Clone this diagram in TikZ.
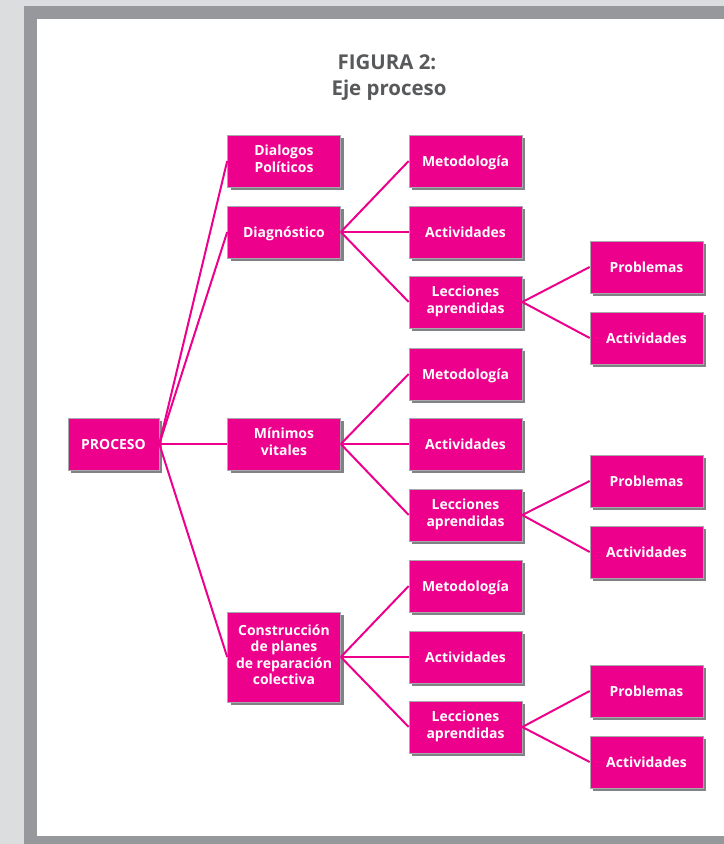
\documentclass[tikz,border=0pt]{standalone}
\usepackage{fontspec}
\setmainfont{Open Sans}
\usetikzlibrary{shadows}
\definecolor{pagegray}{HTML}{DCDDDF}
\definecolor{framegray}{HTML}{97989C}
\definecolor{titlegray}{HTML}{58595B}
\definecolor{boxmag}{HTML}{EC008C}
\definecolor{shadowgray}{HTML}{808285}
\definecolor{edgegray}{HTML}{A7A9AC}
\begin{document}
\begin{tikzpicture}[x=1bp,y=-1bp,
  box/.style={rectangle, fill=boxmag, draw=edgegray, line width=0.6bp,
    minimum width=113bp, minimum height=52bp, inner sep=2bp,
    text=white, align=center, font=\bfseries\fontsize{14}{16.5}\selectfont,
    % fixed struts so the capitals sit centred in every box
    execute at begin node={\rule{0pt}{15bp}},
    execute at end node={\rule[-5bp]{0pt}{5bp}},
    drop shadow={shadow xshift=3bp, shadow yshift=-3bp, fill=shadowgray, opacity=1}},
  link/.style={draw=boxmag, line width=2bp},
  title/.style={text=titlegray, font=\bfseries\fontsize{20.5}{24}\selectfont}]
  % page and frame
  \useasboundingbox (0,0) rectangle (724,844);
  \fill[pagegray] (0,0) rectangle (724,844);
  \fill[framegray] (24,6) rectangle (724,844);
  \fill[white] (37,19) rectangle (724,836);

  % heading
  \node[title] (t1) at (387,62) {FIGURA 2:};
  \node[title] (t2) at (389,90) {Eje proceso};

  % root and first level
  \node[box, minimum width=91bp] (proc) at (113.5,444) {PROCESO};
  \node[box] (dial) at (284,161) {Dialogos\\Políticos};
  \node[box] (diag) at (284,232) {Diagnóstico};
  \node[box] (mini) at (284,444) {Mínimos\\vitales};
  \node[box, minimum height=90bp] (cons) at (284,657) {Construcción\\de planes\\de reparación\\colectiva};

  % second level
  \node[box] (metA) at (465.5,161) {Metodología};
  \node[box] (actA) at (465.5,232) {Actividades};
  \node[box] (lecA) at (465.5,302) {Lecciones\\aprendidas};
  \node[box] (metB) at (465.5,374) {Metodología};
  \node[box] (actB) at (465.5,444) {Actividades};
  \node[box] (lecB) at (465.5,515) {Lecciones\\aprendidas};
  \node[box] (metC) at (465.5,586) {Metodología};
  \node[box] (actC) at (465.5,657) {Actividades};
  \node[box] (lecC) at (465.5,727) {Lecciones\\aprendidas};

  % third level
  \node[box] (proA) at (646.5,267) {Problemas};
  \node[box] (acsA) at (646.5,338) {Actividades};
  \node[box] (proB) at (646.5,481) {Problemas};
  \node[box] (acsB) at (646.5,552) {Actividades};
  \node[box] (proC) at (646.5,691) {Problemas};
  \node[box] (acsC) at (646.5,762) {Actividades};

  % connectors
  \foreach \n in {dial,diag,mini,cons} \draw[link] (proc.east) -- (\n.west);
  \foreach \n in {metA,actA,lecA} \draw[link] (diag.east) -- (\n.west);
  \foreach \n in {metB,actB,lecB} \draw[link] (mini.east) -- (\n.west);
  \foreach \n in {metC,actC,lecC} \draw[link] (cons.east) -- (\n.west);
  \foreach \n in {proA,acsA} \draw[link] (lecA.east) -- (\n.west);
  \foreach \n in {proB,acsB} \draw[link] (lecB.east) -- (\n.west);
  \foreach \n in {proC,acsC} \draw[link] (lecC.east) -- (\n.west);
\end{tikzpicture}
\end{document}
